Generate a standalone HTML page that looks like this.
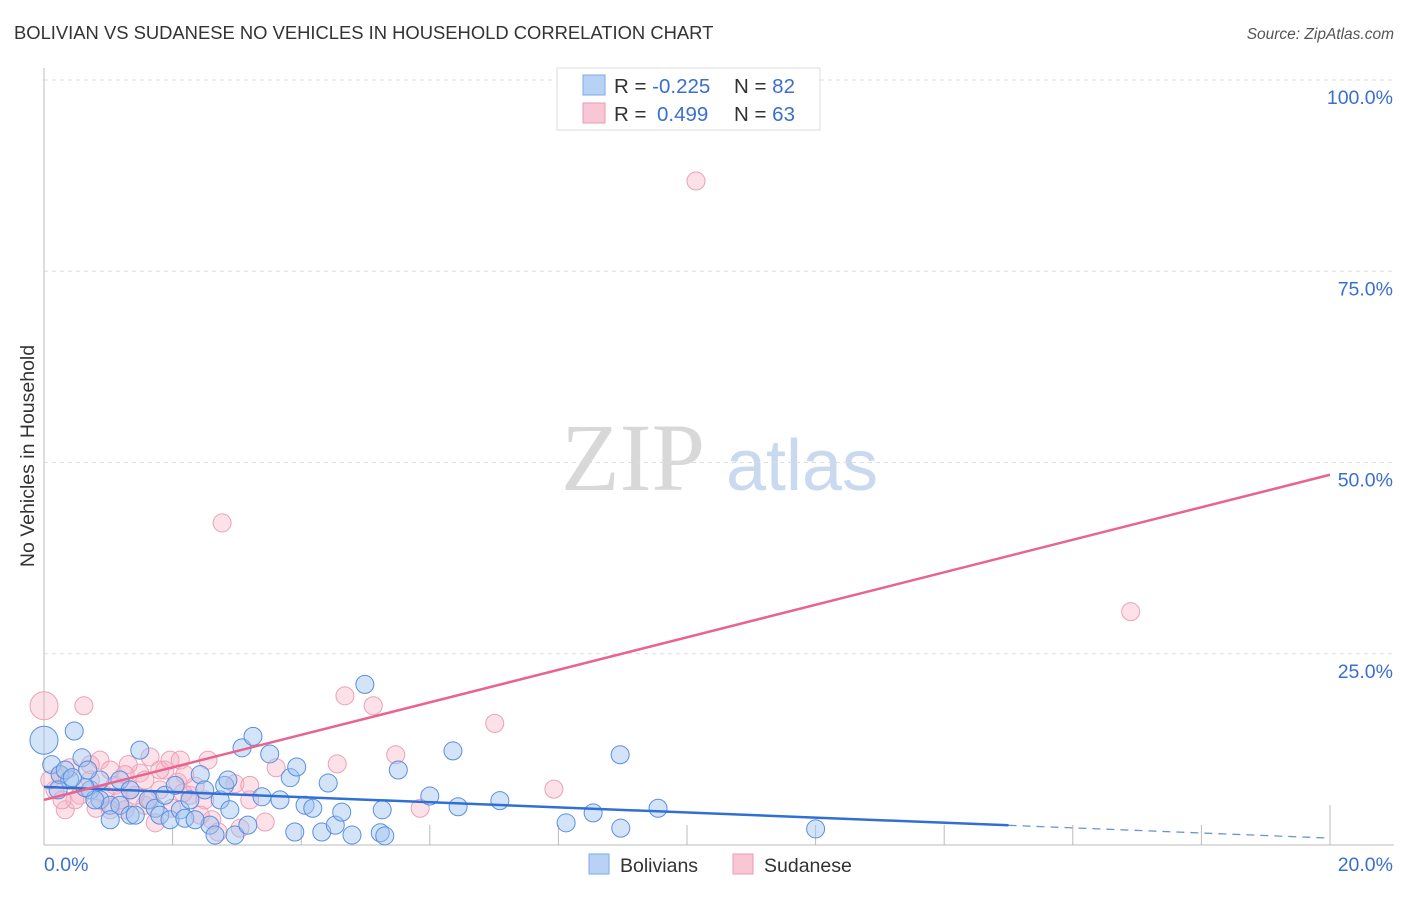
<!DOCTYPE html>
<html><head><meta charset="utf-8"><style>
body{margin:0;background:#fff;font-family:"Liberation Sans",sans-serif;}
svg text{font-family:"Liberation Sans",sans-serif;}
</style></head><body>
<svg id="chart" width="1406" height="892" xmlns="http://www.w3.org/2000/svg">
<text x="14" y="39" font-size="18.4" fill="#333">BOLIVIAN VS SUDANESE NO VEHICLES IN HOUSEHOLD CORRELATION CHART</text>
<text x="1394" y="39" font-size="15.5" fill="#555" font-style="italic" text-anchor="end">Source: ZipAtlas.com</text>
<text x="34" y="456" font-size="19.5" fill="#333" transform="rotate(-90 34 456)" text-anchor="middle">No Vehicles in Household</text>
<g>
<text x="633" y="490" font-size="96" fill="#d8d8d8" font-family="Liberation Serif" text-anchor="middle" style="font-family:'Liberation Serif',serif">ZIP</text>
<text x="802" y="490" font-size="72" fill="#c8d9f0" text-anchor="middle">atlas</text>
</g>
<g id="grid"></g>
<g id="axes"></g>
<g id="points"></g>
<g id="trends"></g>
<g>
<rect x="557" y="68" width="263" height="62" fill="#fff" stroke="#ddd"/>
<rect x="583" y="75" width="22" height="20" fill="#b8d2f5" stroke="#7eaae8"/>
<rect x="583" y="103" width="22" height="20" fill="#f9c6d6" stroke="#eb9ab4"/>
<text x="614" y="93" font-size="20.5" fill="#333">R = <tspan fill="#3a6fd0">-0.225</tspan></text>
<text x="734" y="93" font-size="20.5" fill="#333">N = <tspan fill="#3a6fd0">82</tspan></text>
<text x="614" y="121" font-size="20.5" fill="#333">R = <tspan fill="#3a6fd0" x="657">0.499</tspan></text>
<text x="734" y="121" font-size="20.5" fill="#333">N = <tspan fill="#3a6fd0">63</tspan></text>
</g>
<g>
<rect x="589" y="854" width="20" height="20" fill="#b8d2f5" stroke="#7eaae8"/>
<text x="620" y="872" font-size="19.5" fill="#333">Bolivians</text>
<rect x="733" y="854" width="20" height="20" fill="#f9c6d6" stroke="#eb9ab4"/>
<text x="764" y="872" font-size="19.5" fill="#333">Sudanese</text>
</g>
</svg>
<script>
const yTicks=[25,50,75,100];
const xTickLabels=["0.0%","20.0%"];
const bolX=[0,0.47,0.59,0.12,0.25,0.40,0.72,0.87,1.03,1.18,1.34,1.49,1.62,1.73,1.80,1.88,1.96,2.12,2.27,2.43,2.50,2.58,2.66,2.74,2.81,2.86,2.97,3.08,3.17,3.25,3.39,3.51,3.67,3.83,3.90,3.93,4.06,4.18,4.32,4.42,4.53,4.63,4.79,4.99,5.23,5.26,5.30,5.51,6.00,6.36,6.44,7.09,8.12,8.54,8.96,8.97,9.55,12.0,1.18,1.34,0.79,0.87,0.22,0.33,0.64,1.03,1.42,2.04,2.19,2.35,2.89,0.44,0.68];
const bolY=[13.7,14.9,11.4,10.5,9.2,8.5,7.2,5.9,5.2,8.5,7.2,12.4,5.9,4.8,3.9,6.5,3.3,4.6,5.9,9.2,7.2,2.6,1.3,5.9,7.8,8.5,1.3,12.7,2.6,14.2,6.3,11.9,5.9,8.8,1.7,10.2,5.2,4.8,1.7,8.1,2.6,4.3,1.3,21.0,1.6,4.6,1.2,9.8,6.4,12.3,5.0,5.8,2.9,4.2,11.8,2.2,4.8,2.1,5.2,3.9,5.9,8.5,7.2,9.8,7.5,3.3,3.9,7.8,3.5,3.3,4.6,8.8,9.8];
const sudX=[0,0.62,2.77,10.14,16.9,4.68,5.12,7.01,5.47,4.56,3.61,7.93,5.85,2.97,2.55,1.88,1.65,1.80,1.96,2.12,2.08,2.27,2.50,2.61,3.05,3.44,3.20,0.87,1.03,0.72,0.25,0.40,0.17,1.18,1.34,1.49,1.57,1.73,1.99,2.16,0.95,0.56,2.35,1.31,1.65,0.81,0.33,1.10,1.42,0.48,1.26,0.28,2.43,3.20,1.80,2.19,2.71,1.03,0.72,1.57,0.09,1.26];
const sudY=[18.2,18.2,42.1,86.8,30.5,19.5,18.2,15.9,11.8,10.6,10.1,7.3,4.8,8.0,11.1,9.8,11.5,9.8,11.1,11.1,8.2,6.5,5.9,3.3,2.2,3.0,5.9,11.1,9.8,8.5,9.2,10.1,7.2,5.9,7.2,9.4,5.2,2.9,4.8,6.8,6.5,6.5,7.7,10.5,5.9,4.8,4.6,7.8,6.5,5.9,4.6,5.9,3.9,7.8,7.2,9.2,1.7,4.6,10.5,8.5,8.5,9.2];
const bolTrend=[7.6,0.9];
const sudTrend=[5.9,48.4];
const NS="http://www.w3.org/2000/svg";
const X=v=>44+v/20*1286;
const Y=v=>845-v/100*765;
function mk(tag,attrs,parent){const e=document.createElementNS(NS,tag);for(const k in attrs)e.setAttribute(k,attrs[k]);document.getElementById(parent).appendChild(e);return e;}
yTicks.forEach(t=>{
  const l=mk('line',{x1:44,x2:1394,y1:Y(t),y2:Y(t),stroke:'#ddd','stroke-dasharray':'4,4'},'grid');
  
  
  const tx=mk('text',{x:1393,y:Y(t)+24,'font-size':19.5,fill:'#3a6fd0','text-anchor':'end'},'grid');
  tx.textContent=t.toFixed(1)+'%';
  
  
});
const ax=mk('line',{x1:44,x2:1394,y1:845,y2:845,stroke:'#bbb'},'axes');


const ay=mk('line',{x1:44,x2:44,y1:68,y2:845,stroke:'#bbb'},'axes');


for(let i=1;i<=10;i++){
  const t=mk('line',{x1:X(i*2),x2:X(i*2),y1:i==10?805:825,y2:845,stroke:'#bbb'},'axes');
  
  
}
const xl0=mk('text',{x:44,y:871,'font-size':19.5,fill:'#3a6fd0'},'axes');
xl0.textContent=xTickLabels[0];


const xl1=mk('text',{x:1393,y:871,'font-size':19.5,fill:'#3a6fd0','text-anchor':'end'},'axes');
xl1.textContent=xTickLabels[1];


sudX.forEach((v,i)=>{
  const c=mk('circle',{cx:X(v),cy:Y(sudY[i]),r:i==0?14:9,fill:'rgba(248,180,200,0.4)',stroke:'#eca0b8','stroke-width':1},'points');
  
  
});
bolX.forEach((v,i)=>{
  const c=mk('circle',{cx:X(v),cy:Y(bolY[i]),r:i==0?14:9,fill:'rgba(160,196,240,0.45)',stroke:'#5b8ee0','stroke-width':1},'points');
  
  
});
const bMid=bolTrend[0]+(bolTrend[1]-bolTrend[0])*(X(15)-44)/1286;
const b1=mk('line',{x1:X(0),y1:Y(bolTrend[0]),x2:X(15),y2:Y(bMid),stroke:'#2f6fd6','stroke-width':2.5},'trends');


const b2=mk('line',{x1:X(15),y1:Y(bMid),x2:X(20),y2:Y(bolTrend[1]),stroke:'#6b93d6','stroke-width':1.3,'stroke-dasharray':'8,6'},'trends');


const s1=mk('line',{x1:X(0),y1:Y(sudTrend[0]),x2:X(20),y2:Y(sudTrend[1]),stroke:'#e8648e','stroke-width':2.5},'trends');


</script>
</body></html>
